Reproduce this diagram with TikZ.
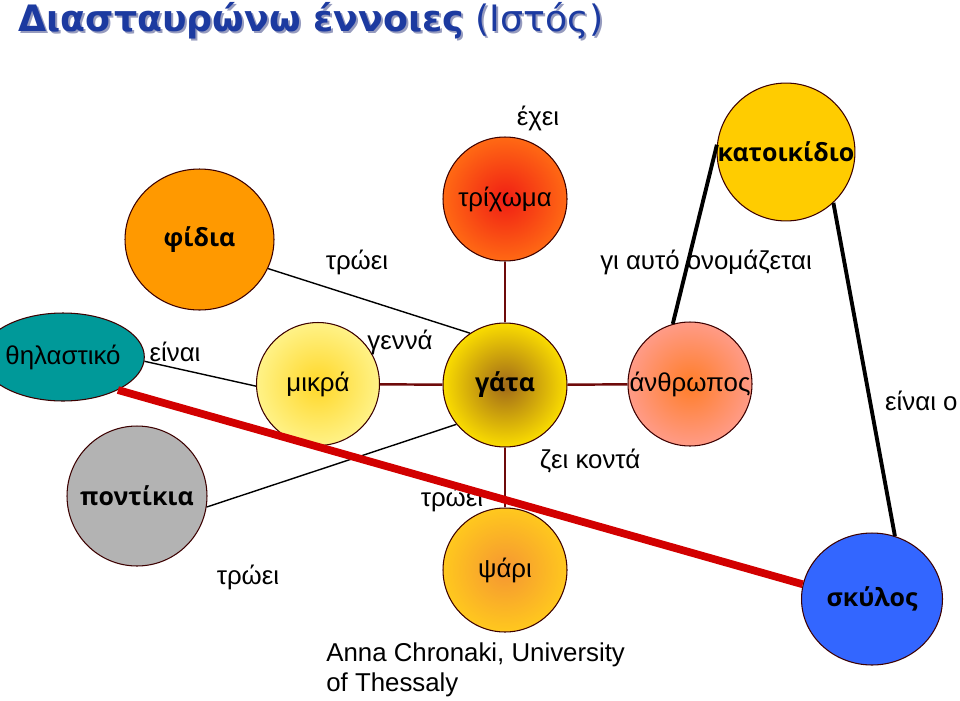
\documentclass[tikz,border=0pt]{standalone}
\usepackage{fontspec}
\setmainfont{Liberation Sans}
\newfontfamily\verdana{DejaVu Sans}
\newfontfamily\opensans{Open Sans}
\usetikzlibrary{shapes.geometric}

\definecolor{titleblue}{RGB}{28,58,160}
\definecolor{titleshade}{RGB}{150,155,190}
\definecolor{rim}{RGB}{60,0,0}
\definecolor{linkred}{RGB}{110,10,10}
\definecolor{thickred}{RGB}{210,0,0}
\definecolor{snakeorange}{RGB}{255,153,0}
\definecolor{petyellow}{RGB}{255,204,0}
\definecolor{mammalteal}{RGB}{0,153,153}
\definecolor{mousegray}{RGB}{179,179,179}
\definecolor{dogblue}{RGB}{51,102,255}

\begin{document}
\begin{tikzpicture}[x=0.02cm, y=-0.02cm,
    every node/.style={font=\fontsize{14.7}{17}\selectfont},
    concept/.style={circle, draw=rim, line width=0.6pt, inner sep=0pt},
    bold label/.style={font=\opensans\bfseries\fontsize{14.2}{16}\selectfont},
    thin link/.style={black, line width=0.8pt},
    hub link/.style={linkred, line width=1.4pt},
    heavy link/.style={black, line width=2.2pt}]
    \useasboundingbox (0,0) rectangle (960,700);

    % title with its shadow
    \node[anchor=west, inner sep=0pt, text=titleshade, font=\verdana\fontsize{20.7}{24}\selectfont] (titleshadow) at (20,23) {\textbf{Διασταυρώνω έννοιες} (Ιστός)};
    \node[anchor=west, inner sep=0pt, text=titleblue, font=\verdana\fontsize{20.7}{24}\selectfont] (title) at (18,21) {\textbf{Διασταυρώνω έννοιες} (Ιστός)};

    % concepts
    \node[concept, ellipse, minimum width=2.98cm, minimum height=2.82cm, fill=snakeorange, bold label] (fidia) at (199.5,239.5) {φίδια};
    \node[concept, minimum size=2.48cm, shading=radial, inner color={rgb,255:red,240;green,30;blue,20}, outer color={rgb,255:red,255;green,105;blue,20}] (trixoma) at (505,199) {τρίχωμα};
    \node[concept, minimum size=2.64cm, fill=petyellow, bold label] (katoikidio) at (786,152) {κατοικίδιο};
    \node[concept, ellipse, minimum width=2.48cm, minimum height=1.76cm, fill=mammalteal] (thilastiko) at (63,357) {θηλαστικό};
    \node[concept, minimum size=2.46cm, shading=radial, inner color={rgb,255:red,255;green,215;blue,40}, outer color={rgb,255:red,255;green,242;blue,135}] (mikra) at (318,384) {μικρά};
    \node[concept, minimum size=2.48cm, shading=radial, inner color={rgb,255:red,160;green,105;blue,25}, outer color={rgb,255:red,250;green,220;blue,0}, bold label] (gata) at (505,385) {γάτα};
    \node[concept, minimum size=2.48cm, shading=radial, inner color={rgb,255:red,255;green,125;blue,40}, outer color={rgb,255:red,255;green,155;blue,135}] (anthropos) at (690,384) {άνθρωπος};
    \node[concept, minimum size=2.8cm, fill=mousegray, bold label] (pontikia) at (137,496) {ποντίκια};
    \node[concept, minimum size=2.48cm, shading=radial, inner color={rgb,255:red,245;green,150;blue,50}, outer color={rgb,255:red,255;green,200;blue,30}] (psari) at (505,570) {ψάρι};
    \node[concept, ellipse, minimum width=2.82cm, minimum height=2.64cm, fill=dogblue, bold label] (skylos) at (872,599) {σκύλος};

    % links round the cat
    \draw[hub link] (gata) -- (trixoma);
    \draw[hub link] (gata) -- (psari);
    \draw[hub link] (gata) -- (mikra);
    \draw[hub link] (gata) -- (anthropos);
    \draw[thin link] (fidia.-23) -- (gata.124);
    \draw[thin link] (thilastiko.-3) -- (mikra.182);
    \draw[thin link] (pontikia.-9) -- (gata.219);
    \draw[heavy link] (anthropos.106) -- (katoikidio.174);
    \draw[heavy link] (katoikidio.-47) -- (skylos.70);

    % link words
    \node (exei) at (538,118) {έχει};
    \node (troeiFidia) at (357,262) {τρώει};
    \node (onomazetai) at (706,262) {γι αυτό ονομάζεται};
    \node (einai) at (175,352) {είναι};
    \node (genna) at (400,342) {γεννά};
    \node[anchor=west] (einaiO) at (879,401) {είναι ο};
    \node (zeiKonta) at (590,461) {ζει κοντά};
    \node (troeiPontikia) at (452,499) {τρώει};
    \node (troeiPsari) at (248,577) {τρώει};

    \draw[thickred, line width=4.4pt] (thilastiko.-31) -- (skylos.168);

    \node[anchor=west, inner sep=0pt, align=left, font=\fontsize{14.7}{17}\selectfont] (author) at (326,670) {Anna Chronaki, University\\of Thessaly};
\end{tikzpicture}
\end{document}
